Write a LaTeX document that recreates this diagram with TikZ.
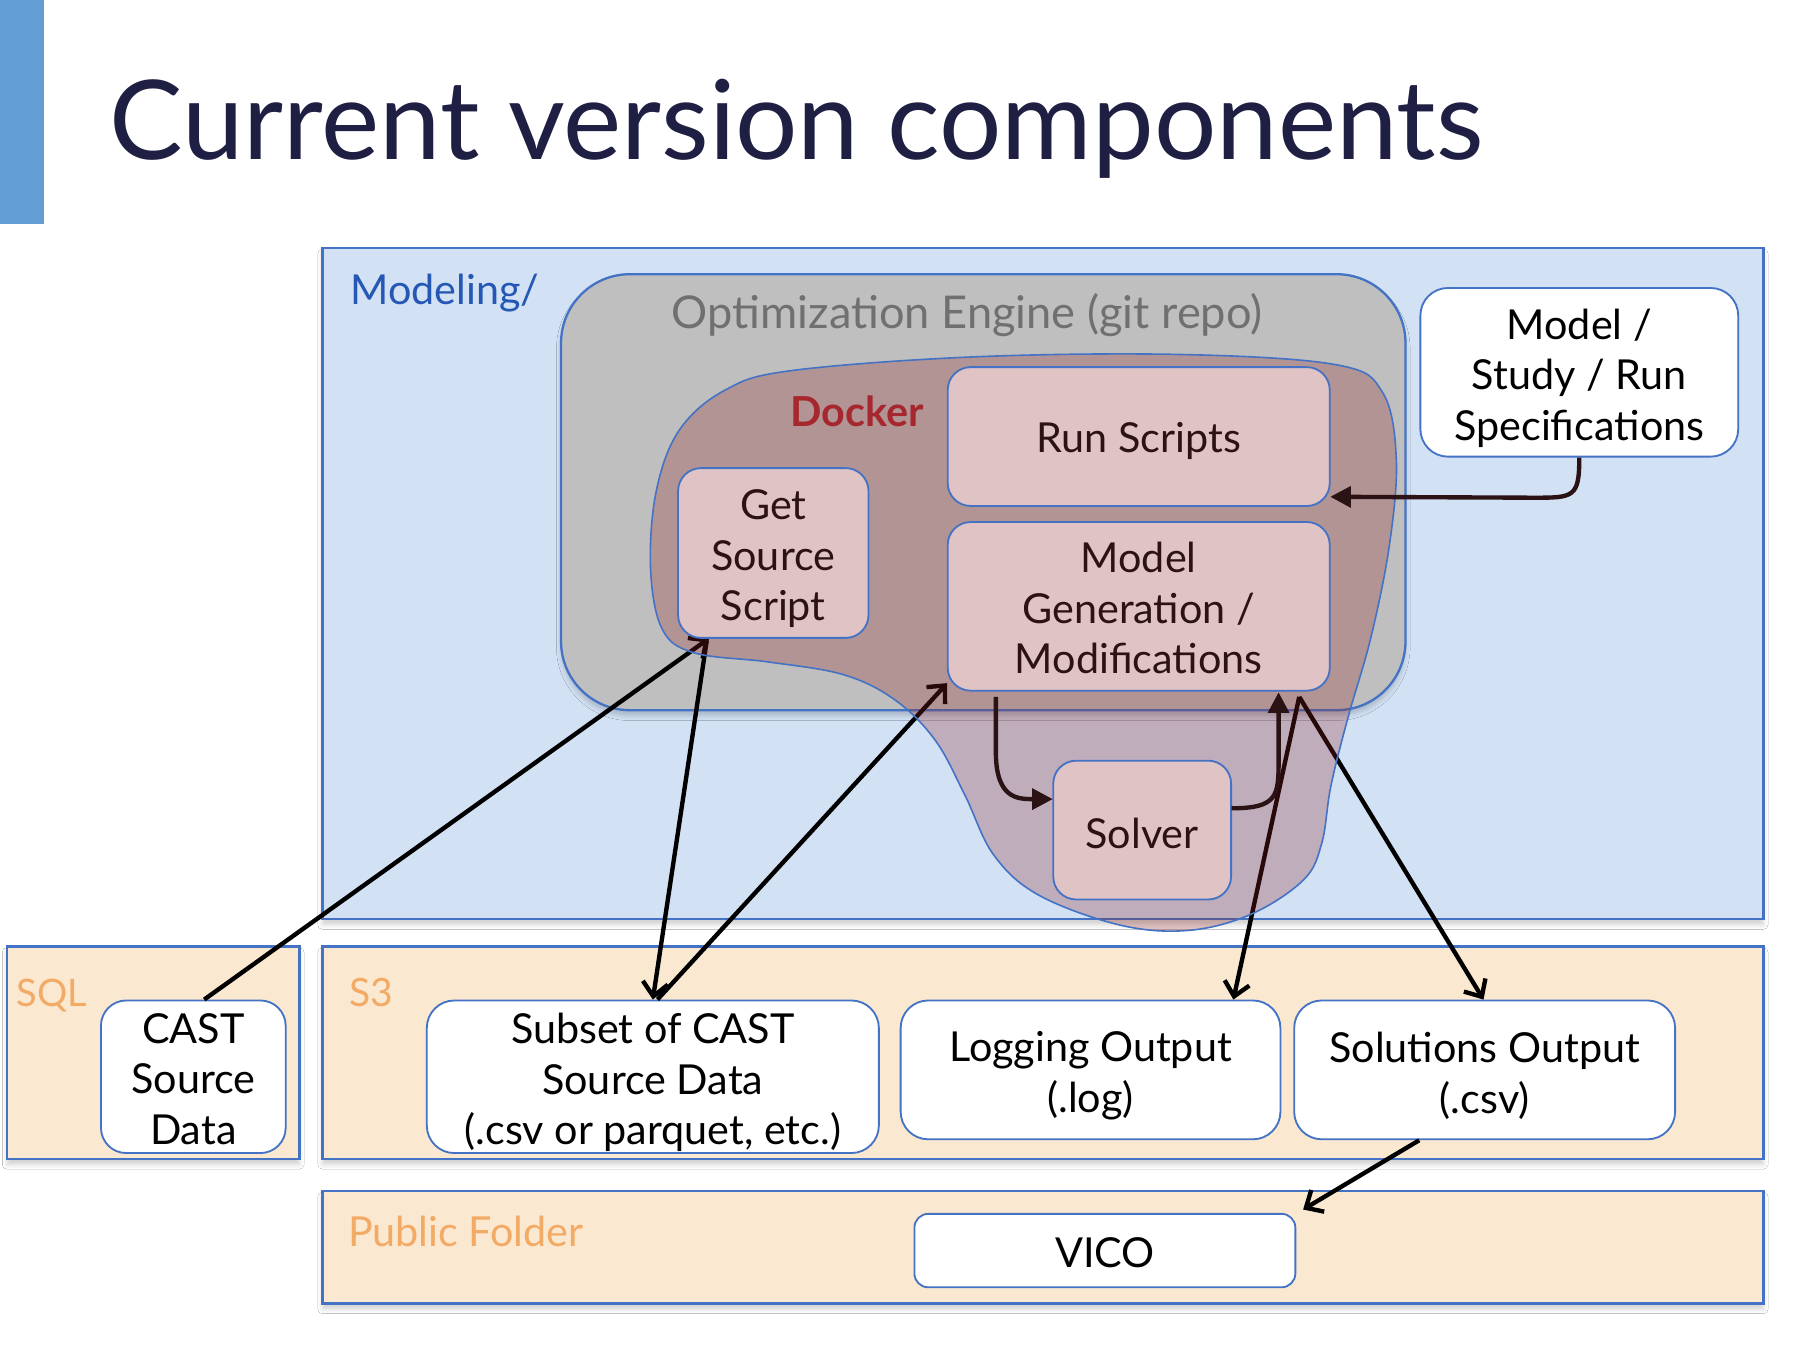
\documentclass[tikz,border=0pt]{standalone}
\usepackage{fontspec}
\setmainfont{Lato}
\usetikzlibrary{arrows.meta,calc,shadows.blur}
\definecolor{barblue}{RGB}{99,159,212}
\definecolor{titlecol}{RGB}{31,31,68}
\definecolor{modfill}{RGB}{210,225,244}
\definecolor{edgeblue}{RGB}{68,114,196}
\definecolor{optfill}{RGB}{191,191,191}
\definecolor{opttext}{RGB}{112,112,112}
\definecolor{peach}{RGB}{251,232,208}
\definecolor{orangelab}{RGB}{242,170,100}
\definecolor{modlab}{RGB}{36,88,180}
\definecolor{dockred}{RGB}{145,35,35}
\definecolor{dockerlab}{RGB}{166,40,46}
\definecolor{pinkbox}{RGB}{224,195,197}
\definecolor{darkbrown}{RGB}{42,18,21}
\begin{document}
\begin{tikzpicture}[x=0.5pt,y=-0.5pt,
  wh/.style 2 args={minimum width=#1*0.5pt, minimum height=#2*0.5pt, inner sep=0pt},
  boxtext/.style={font=\fontsize{18}{22}\selectfont, align=center, inner sep=0pt},
  ibox/.style={draw=edgeblue, line width=0.8pt, fill=pinkbox, rounded corners=10pt},
  wbox/.style={draw=edgeblue, line width=0.8pt, fill=white, rounded corners=11pt},
  itext/.style={boxtext, text=darkbrown},
  wtext/.style={boxtext, text=black},
  container/.style={draw=edgeblue, line width=1pt},
  softshadow/.style={blur shadow={shadow xshift=0pt, shadow yshift=-2.5pt, shadow blur radius=2pt, shadow opacity=18}},
  conn/.style={line width=1.9pt, black, -{Straight Barb[length=6pt,width=11pt,line width=1.9pt]}},
  loopconn/.style={line width=1.9pt, darkbrown, -{Triangle[length=9pt,width=9pt]}},
  lab/.style={font=\fontsize{18}{22}\selectfont, anchor=base west, inner sep=0pt},
]
\useasboundingbox (0,0) rectangle (1568,1176);
\fill[white] (0,0) rectangle (1568,1176);

% left bar and title
\fill[barblue] (0,0) rectangle (38,195);
\node[anchor=base west, inner sep=0pt, text=titlecol, font=\fontsize{48}{58}\selectfont] (title) at (95,139) {Current version components};

% containers
\draw[container, fill=modfill, softshadow] (281,216) rectangle (1537,801);
\draw[container, fill=peach, softshadow] (6,825) rectangle (261,1010);
\draw[container, fill=peach, softshadow] (281,825) rectangle (1537,1010);
\draw[container, fill=peach, softshadow] (281,1038) rectangle (1537,1136);
\draw[container, fill=optfill, rounded corners=30pt, softshadow] (489,239) rectangle (1225,619);

% container labels
\node[lab, text=modlab] (lmod) at (305,265) {Modeling/};
\node[anchor=base, inner sep=0pt, text=opttext, font=\fontsize{19.7}{24}\selectfont] (lopt) at (843,286) {Optimization Engine (git repo)};
\node[lab, text=orangelab, font=\fontsize{16.5}{20}\selectfont] (lsql) at (14,877) {SQL};
\node[lab, text=orangelab, font=\fontsize{17}{20}\selectfont] (ls3) at (304,877) {S3};
\node[lab, text=orangelab] (lpub) at (303,1086) {Public Folder};

% outer boxes
\node[wbox, wh={277}{147}, rounded corners=12pt] (spec) at (1376.5,324.5) {};
\node[wtext] (specT) at ($(spec)+(0,5)$) {Model /\\Study / Run\\Specifications};
\node[wbox, wh={161}{133}] (cast) at (168.5,938.5) {};
\node[wtext] (castT) at ($(cast)+(0,2)$) {CAST\\Source\\Data};
\node[wbox, wh={394}{133}, rounded corners=12pt] (subset) at (569,938.5) {};
\node[wtext] (subsetT) at ($(subset)+(0,5)$) {Subset of CAST\\Source Data\\(.csv or parquet, etc.)};
\node[wbox, wh={331}{121}, rounded corners=12pt] (log) at (950.5,932.5) {};
\node[wtext] (logT) at ($(log)+(0,5)$) {Logging Output\\(.log)};
\node[wbox, wh={332}{121}, rounded corners=12pt] (sol) at (1294,932.5) {};
\node[wtext] (solT) at ($(sol)+(0,5)$) {Solutions Output\\(.csv)};
\node[wbox, wh={332}{64}, rounded corners=6pt] (vico) at (963,1090) {};
\node[wtext] (vicoT) at ($(vico)+(0,2)$) {VICO};

% inner box positions (placed first so connectors can use them)
\path (674,482) node[wh={166}{148}] (gss) {};
\path (992.5,380.5) node[wh={333}{121}] (run) {};
\path (992.5,528.5) node[wh={333}{147}] (mgen) {};
\path (995.5,723.5) node[wh={155}{121}] (solver) {};

% black connectors (under the docker overlay)
\draw[conn] ($(cast.north)+(9.5,0)$) -- ($(gss.south)+(-56,0)$);
\draw[conn] ($(gss.south)+(-58,2)$) -- (subset.north);
\draw[conn] ($(subset.north)+(4,0)$) -- ($(mgen.south west)+(0,-7)$);
\draw[conn] ($(mgen.south east)+(-27,5)$) -- ($(log.north)+(124.5,0)$);
\draw[conn] ($(mgen.south east)+(-27,5)$) -- ($(sol.north)+(-1,0)$);
\draw[conn] ($(sol.south)+(-57,0)$) -- ($(vico.north east)+(6,-3)$);

% docker overlay
\draw[edgeblue, line width=0.7pt, fill=dockred, fill opacity=0.27]
  plot[smooth cycle, tension=0.6] coordinates {(690,323) (850,311) (1030,309) (1165,318) (1205,342) (1217,400) (1211,475) (1195,555) (1175,625) (1160,685) (1152,735) (1136,767) (1090,797) (1035,811) (975,806) (905,780) (866,745) (841,693) (815,645) (780,610) (735,588) (670,577) (605,569) (577,548) (567,495) (572,428) (592,375) (632,340)};
\node[anchor=base, inner sep=0pt, text=dockerlab, font=\bfseries\fontsize{18}{22}\selectfont] (ldock) at (747,372) {Docker};

% inner boxes
\node[ibox, wh={166}{148}] (gssb) at (gss) {};
\node[itext] (gssT) at ($(gss)+(0,5)$) {Get\\Source\\Script};
\node[ibox, wh={333}{121}] (runb) at (run) {};
\node[itext] (runT) at ($(run)+(0,4)$) {Run Scripts};
\node[ibox, wh={333}{147}] (mgenb) at (mgen) {};
\node[itext] (mgenT) at ($(mgen)+(0,1.5)$) {Model\\Generation /\\Modifications};
\node[ibox, wh={155}{121}] (solverb) at (solver) {};
\node[itext] (solverT) at ($(solver)+(0,3)$) {Solver};

% dark connectors inside docker
\draw[loopconn] ($(mgen.south)+(-124.5,5)$) -- ($(mgen.south)+(-124.5,55)$) .. controls ($(solver.west)+(-49,-27)$) and ($(solver.west)+(-30,-27)$) .. ($(solver.west)+(0,-27)$);
\draw[loopconn] ($(solver.east)+(0,-19)$) .. controls ($(solver.east)+(40,-19)$) and ($(solver.east)+(41,-30)$) .. ($(solver.east)+(41,-60)$) -- ($(mgen.south east)+(-45,1)$);
\draw[loopconn] (spec.south) .. controls ($(spec.south)+(0,35)$) and ($(spec.south)+(-5,35)$) .. ($(spec.south)+(-40,35)$) -- ($(run.east)+(0,52.5)$);
\end{tikzpicture}
\end{document}
